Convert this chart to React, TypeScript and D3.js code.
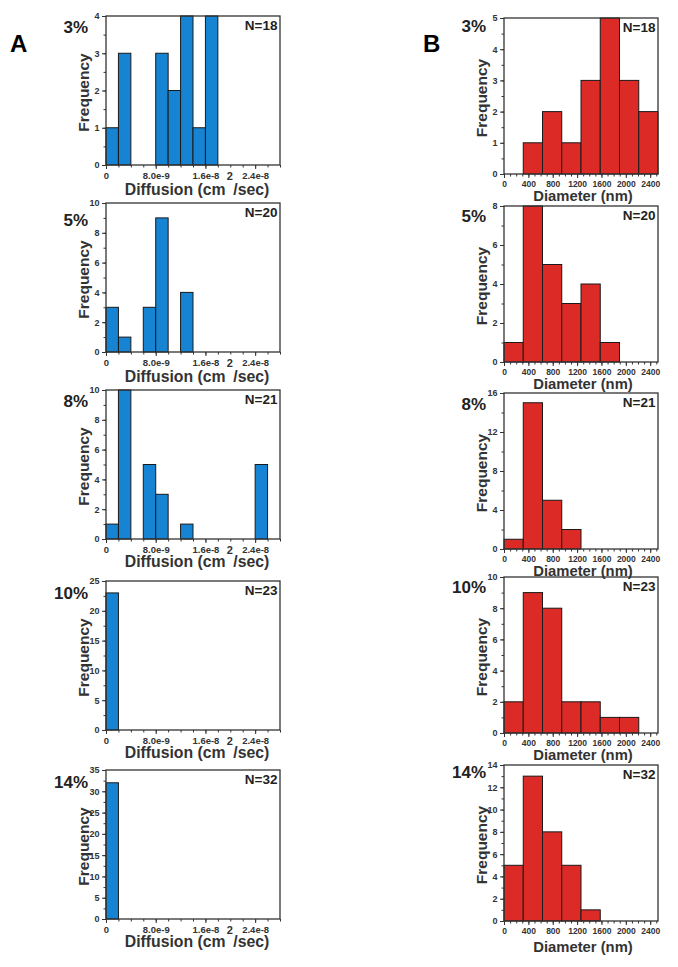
import React, { useEffect, useRef } from 'react';
import * as d3 from 'd3';

const FONT = '"Liberation Sans", Arial, Helvetica, sans-serif';
const W = 678;
const H = 967;

// panel A: diffusion histograms, bins of 2e-9 cm2/sec starting at 0
const diffusionBinWidth = 2e-9;
const diffusion3 = [1, 3, 0, 0, 3, 2, 4, 1, 4];
const diffusion5 = [3, 1, 0, 3, 9, 0, 4];
const diffusion8 = [1, 10, 0, 5, 3, 0, 1, 0, 0, 0, 0, 0, 5];
const diffusion10 = [23];
const diffusion14 = [32];
const diffusionYMax = [4, 10, 10, 25, 35];
const diffusionYStep = [1, 2, 2, 5, 5];
const diffusionTicks = [0, 8e-9, 1.6e-8, 2.4e-8];
const diffusionTickLabels = ['0', '8.0e-9', '1.6e-8', '2.4e-8'];

// panel B: diameter histograms, bins of ~316 nm starting at 0
const diameterBinWidth = 316;
const diameter3 = [0, 1, 2, 1, 3, 5, 3, 2];
const diameter5 = [1, 8, 5, 3, 4, 1];
const diameter8 = [1, 15, 5, 2];
const diameter10 = [2, 9, 8, 2, 2, 1, 1];
const diameter14 = [5, 13, 8, 5, 1];
const diameterYMax = [5, 8, 16, 10, 14];
const diameterYStep = [1, 2, 4, 2, 2];
const diameterTicks = [0, 400, 800, 1200, 1600, 2000, 2400];

const percents = ['3%', '5%', '8%', '10%', '14%'];
const counts = [18, 20, 21, 23, 32];

const diffusionSeries = [diffusion3, diffusion5, diffusion8, diffusion10, diffusion14];
const diameterSeries = [diameter3, diameter5, diameter8, diameter10, diameter14];

// layout of the two columns
const leftCol = { x0: 106, x1: 280, h: 149, tops: [16, 203, 390, 581, 770], titleGap: [30, 30, 28, 28, 28], pctDy: [17, 23, 17, 18, 18] };
const rightCol = { x0: 504, x1: 658, h: 156, tops: [18, 206, 393, 577, 765], titleGap: [27, 27, 27, 27, 31], pctDy: [14, 16, 17, 16, 13] };

const BLUE = '#1684d2';
const RED = '#dc2b27';
const INK = '#333';

type PanelOpts = {
  x0: number; x1: number; top: number; h: number;
  values: number[]; binWidth: number; xMax: number;
  yMax: number; yStep: number;
  xTicks: number[]; xFormat: (d: number, i: number) => string; xMinor: number[];
  tickFont: number;
  color: string; pct: string; n: number; kind: 'diffusion' | 'diameter';
  titleGap: number; pctDy: number;
};

const styleAxis = (a: any, size: number) => {
  a.attr('font-family', FONT).attr('font-size', size).attr('font-weight', 'bold');
  a.select('.domain').remove();
  a.selectAll('line').attr('stroke', INK).attr('stroke-width', 1);
  a.selectAll('text').attr('fill', INK);
};

const drawPanel = (svg: any, o: PanelOpts) => {
  const w = o.x1 - o.x0;
  const g = svg.append('g').attr('transform', `translate(${o.x0},${o.top})`);
  const x = d3.scaleLinear().domain([0, o.xMax]).range([0, w]);
  const y = d3.scaleLinear().domain([0, o.yMax]).range([o.h, 0]);

  // bars
  const bins = o.values.map((v, i) => ({ i, v })).filter(d => d.v > 0);
  g.selectAll('rect.bar')
    .data(bins)
    .enter().append('rect')
    .attr('class', 'bar')
    .attr('x', (d: any) => x(d.i * o.binWidth))
    .attr('width', (d: any) => x((d.i + 1) * o.binWidth) - x(d.i * o.binWidth))
    .attr('y', (d: any) => y(Math.min(d.v, o.yMax)))
    .attr('height', (d: any) => o.h - y(Math.min(d.v, o.yMax)))
    .attr('fill', o.color)
    .attr('stroke', '#1a1a1a')
    .attr('stroke-width', 1);

  // minor ticks
  const nMajor = Math.round(o.yMax / o.yStep);
  const yMinor = d3.range(0, nMajor * 2 + 1).map(k => (k * o.yStep) / 2);
  styleAxis(g.append('g').call(d3.axisLeft(y).tickValues(yMinor).tickSize(2.5).tickFormat(() => '')), o.tickFont);
  styleAxis(g.append('g').attr('transform', `translate(0,${o.h})`)
    .call(d3.axisBottom(x).tickValues(o.xMinor).tickSize(2.5).tickFormat(() => '')), o.tickFont);

  // major ticks
  const yMajor = d3.range(0, nMajor + 1).map(k => k * o.yStep);
  styleAxis(g.append('g').call(d3.axisLeft(y).tickValues(yMajor).tickSize(4).tickPadding(2.5)
    .tickFormat((d: any) => `${d}`)), 9);
  styleAxis(g.append('g').attr('transform', `translate(0,${o.h})`)
    .call(d3.axisBottom(x).tickValues(o.xTicks).tickSize(4).tickPadding(3).tickFormat(o.xFormat as any)), o.tickFont);

  // frame
  g.append('rect')
    .attr('width', w).attr('height', o.h)
    .attr('fill', 'none').attr('stroke', INK).attr('stroke-width', 1.3);

  // axis titles
  const title = g.append('text')
    .attr('x', w / 2 + (o.kind === 'diffusion' ? 4 : 2))
    .attr('y', o.h + o.titleGap)
    .attr('text-anchor', 'middle')
    .attr('font-family', FONT).attr('font-weight', 'bold').attr('fill', INK);
  if (o.kind === 'diffusion') {
    // the superscript sits up at the level of the tick labels, as in the original
    const lift = o.titleGap - 15;
    title.attr('font-size', 15.8);
    title.append('tspan').text('Diffusion (cm');
    title.append('tspan').attr('dy', -lift).attr('dx', 1).attr('font-size', 11).text('2');
    title.append('tspan').attr('dy', lift).attr('dx', 0.5).text('/sec)');
  } else {
    title.attr('font-size', 14.8).text('Diameter (nm)');
  }

  g.append('text')
    .attr('transform', `translate(-17,${o.h / 2 + 2}) rotate(-90)`)
    .attr('text-anchor', 'middle')
    .attr('font-family', FONT).attr('font-weight', 'bold').attr('font-size', 15.5)
    .attr('fill', INK)
    .text('Frequency');

  g.append('text')
    .attr('x', -18).attr('y', o.pctDy)
    .attr('text-anchor', 'end')
    .attr('font-family', FONT).attr('font-weight', 'bold').attr('font-size', 17)
    .attr('fill', '#222')
    .text(o.pct);

  g.append('text')
    .attr('x', w - 2.5).attr('y', 14)
    .attr('text-anchor', 'end')
    .attr('font-family', FONT).attr('font-weight', 'bold').attr('font-size', 13.5)
    .attr('fill', '#222')
    .text(`N=${o.n}`);
};

const Chart = () => {
  const ref = useRef<SVGSVGElement | null>(null);

  useEffect(() => {
    const svg = d3.select(ref.current);
    svg.selectAll('*').remove();

    const diffusionMax = 14 * diffusionBinWidth;
    const diameterMax = 8 * diameterBinWidth;

    diffusionSeries.forEach((values, i) => {
      drawPanel(svg, {
        x0: leftCol.x0, x1: leftCol.x1, top: leftCol.tops[i], h: leftCol.h,
        values, binWidth: diffusionBinWidth, xMax: diffusionMax,
        yMax: diffusionYMax[i], yStep: diffusionYStep[i],
        xTicks: diffusionTicks,
        xFormat: (_d, k) => diffusionTickLabels[k],
        xMinor: d3.range(0, 15).map(k => k * 2e-9),
        tickFont: 9.5,
        color: BLUE, pct: percents[i], n: counts[i], kind: 'diffusion',
        titleGap: leftCol.titleGap[i], pctDy: leftCol.pctDy[i],
      });
    });

    diameterSeries.forEach((values, i) => {
      drawPanel(svg, {
        x0: rightCol.x0, x1: rightCol.x1, top: rightCol.tops[i], h: rightCol.h,
        values, binWidth: diameterBinWidth, xMax: diameterMax,
        yMax: diameterYMax[i], yStep: diameterYStep[i],
        xTicks: diameterTicks,
        xFormat: d => `${d}`,
        xMinor: d3.range(0, 26).map(k => k * 100),
        tickFont: 8.5,
        color: RED, pct: percents[i], n: counts[i], kind: 'diameter',
        titleGap: rightCol.titleGap[i], pctDy: rightCol.pctDy[i],
      });
    });

    // panel letters
    svg.append('text').attr('x', 10).attr('y', 52)
      .attr('font-family', FONT).attr('font-weight', 'bold').attr('font-size', 24).text('A');
    svg.append('text').attr('x', 423).attr('y', 52)
      .attr('font-family', FONT).attr('font-weight', 'bold').attr('font-size', 24).text('B');
  }, []);

  return (
    <svg ref={ref} width={W} height={H}
      style={{ position: 'absolute', left: 0, top: 0, background: '#fff' }} />
  );
};

export default function App() {
  return <Chart />;
}
